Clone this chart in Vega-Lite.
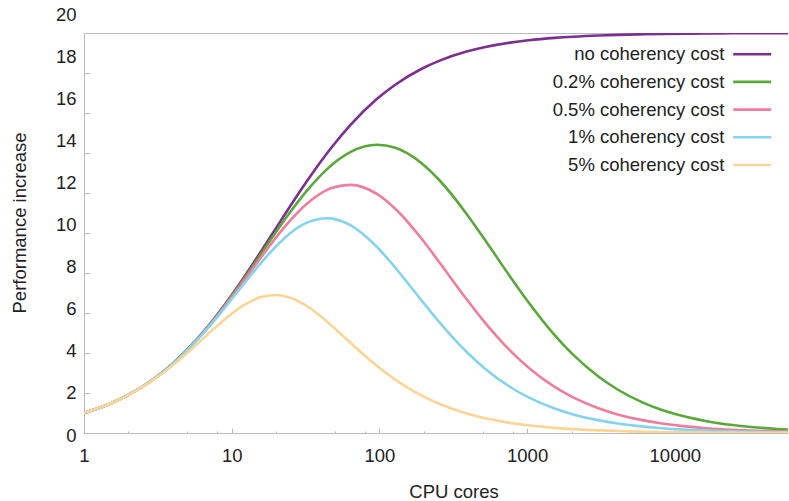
{
  "$schema": "https://vega.github.io/schema/vega-lite/v6.json",
  "width": 704,
  "height": 400,
  "autosize": {"type": "none"},
  "padding": {"left": 84, "top": 33, "right": 1, "bottom": 68},
  "background": "white",
  "config": {"view": {"stroke": null}, "font": "Liberation Sans"},
  "data": {"values": [
    {"cost":"no coherency cost","cores":1,"perf":1},{"cost":"no coherency cost","cores":1.5,"perf":1.4634},{"cost":"no coherency cost","cores":2,"perf":1.9048},{"cost":"no coherency cost","cores":3,"perf":2.7273},{"cost":"no coherency cost","cores":4,"perf":3.4783},{"cost":"no coherency cost","cores":6,"perf":4.8},{"cost":"no coherency cost","cores":8,"perf":5.9259},{"cost":"no coherency cost","cores":12,"perf":7.7419},{"cost":"no coherency cost","cores":16,"perf":9.1429},{"cost":"no coherency cost","cores":20,"perf":10.2564},{"cost":"no coherency cost","cores":24,"perf":11.1628},{"cost":"no coherency cost","cores":32,"perf":12.549},{"cost":"no coherency cost","cores":45,"perf":14.0625},{"cost":"no coherency cost","cores":48,"perf":14.3284},{"cost":"no coherency cost","cores":64,"perf":15.4217},{"cost":"no coherency cost","cores":96,"perf":16.6957},{"cost":"no coherency cost","cores":128,"perf":17.415},{"cost":"no coherency cost","cores":192,"perf":18.1991},{"cost":"no coherency cost","cores":256,"perf":18.6182},{"cost":"no coherency cost","cores":384,"perf":19.0571},{"cost":"no coherency cost","cores":512,"perf":19.2844},{"cost":"no coherency cost","cores":768,"perf":19.5172},{"cost":"no coherency cost","cores":1024,"perf":19.6357},{"cost":"no coherency cost","cores":1536,"perf":19.7556},{"cost":"no coherency cost","cores":2048,"perf":19.8162},{"cost":"no coherency cost","cores":3072,"perf":19.8771},{"cost":"no coherency cost","cores":4096,"perf":19.9077},{"cost":"no coherency cost","cores":6144,"perf":19.9383},{"cost":"no coherency cost","cores":8192,"perf":19.9537},{"cost":"no coherency cost","cores":12288,"perf":19.9691},{"cost":"no coherency cost","cores":16384,"perf":19.9768},{"cost":"no coherency cost","cores":24576,"perf":19.9846},{"cost":"no coherency cost","cores":32768,"perf":19.9884},{"cost":"no coherency cost","cores":49152,"perf":19.9923},{"cost":"no coherency cost","cores":65536,"perf":19.9942},
    {"cost":"0.2% coherency cost","cores":1,"perf":1},{"cost":"0.2% coherency cost","cores":1.5,"perf":1.4633},{"cost":"0.2% coherency cost","cores":2,"perf":1.9044},{"cost":"0.2% coherency cost","cores":3,"perf":2.7258},{"cost":"0.2% coherency cost","cores":4,"perf":3.4746},{"cost":"0.2% coherency cost","cores":6,"perf":4.7885},{"cost":"0.2% coherency cost","cores":8,"perf":5.9014},{"cost":"0.2% coherency cost","cores":12,"perf":7.6766},{"cost":"0.2% coherency cost","cores":16,"perf":9.0192},{"cost":"0.2% coherency cost","cores":20,"perf":10.0604},{"cost":"0.2% coherency cost","cores":24,"perf":10.8834},{"cost":"0.2% coherency cost","cores":32,"perf":12.0791},{"cost":"0.2% coherency cost","cores":45,"perf":13.2431},{"cost":"0.2% coherency cost","cores":48,"perf":13.4243},{"cost":"0.2% coherency cost","cores":64,"perf":14.056},{"cost":"0.2% coherency cost","cores":96,"perf":14.4101},{"cost":"0.2% coherency cost","cores":128,"perf":14.2609},{"cost":"0.2% coherency cost","cores":192,"perf":13.5048},{"cost":"0.2% coherency cost","cores":256,"perf":12.6245},{"cost":"0.2% coherency cost","cores":384,"perf":11.0164},{"cost":"0.2% coherency cost","cores":512,"perf":9.7129},{"cost":"0.2% coherency cost","cores":768,"perf":7.8163},{"cost":"0.2% coherency cost","cores":1024,"perf":6.5262},{"cost":"0.2% coherency cost","cores":1536,"perf":4.8991},{"cost":"0.2% coherency cost","cores":2048,"perf":3.9191},{"cost":"0.2% coherency cost","cores":3072,"perf":2.7979},{"cost":"0.2% coherency cost","cores":4096,"perf":2.1752},{"cost":"0.2% coherency cost","cores":6144,"perf":1.505},{"cost":"0.2% coherency cost","cores":8192,"perf":1.1506},{"cost":"0.2% coherency cost","cores":12288,"perf":0.782},{"cost":"0.2% coherency cost","cores":16384,"perf":0.5923},{"cost":"0.2% coherency cost","cores":24576,"perf":0.3988},{"cost":"0.2% coherency cost","cores":32768,"perf":0.3006},{"cost":"0.2% coherency cost","cores":49152,"perf":0.2014},{"cost":"0.2% coherency cost","cores":65536,"perf":0.1514},
    {"cost":"0.5% coherency cost","cores":1,"perf":1},{"cost":"0.5% coherency cost","cores":1.5,"perf":1.4631},{"cost":"0.5% coherency cost","cores":2,"perf":1.9039},{"cost":"0.5% coherency cost","cores":3,"perf":2.7236},{"cost":"0.5% coherency cost","cores":4,"perf":3.4692},{"cost":"0.5% coherency cost","cores":6,"perf":4.7714},{"cost":"0.5% coherency cost","cores":8,"perf":5.8651},{"cost":"0.5% coherency cost","cores":12,"perf":7.5806},{"cost":"0.5% coherency cost","cores":16,"perf":8.8398},{"cost":"0.5% coherency cost","cores":20,"perf":9.78},{"cost":"0.5% coherency cost","cores":24,"perf":10.4895},{"cost":"0.5% coherency cost","cores":32,"perf":11.4367},{"cost":"0.5% coherency cost","cores":45,"perf":12.1786},{"cost":"0.5% coherency cost","cores":48,"perf":12.2637},{"cost":"0.5% coherency cost","cores":64,"perf":12.4079},{"cost":"0.5% coherency cost","cores":96,"perf":11.9552},{"cost":"0.5% coherency cost","cores":128,"perf":11.2143},{"cost":"0.5% coherency cost","cores":192,"perf":9.7373},{"cost":"0.5% coherency cost","cores":256,"perf":8.5135},{"cost":"0.5% coherency cost","cores":384,"perf":6.7465},{"cost":"0.5% coherency cost","cores":512,"perf":5.5677},{"cost":"0.5% coherency cost","cores":768,"perf":4.1154},{"cost":"0.5% coherency cost","cores":1024,"perf":3.2607},{"cost":"0.5% coherency cost","cores":1536,"perf":2.3022},{"cost":"0.5% coherency cost","cores":2048,"perf":1.7787},{"cost":"0.5% coherency cost","cores":3072,"perf":1.2224},{"cost":"0.5% coherency cost","cores":4096,"perf":0.9311},{"cost":"0.5% coherency cost","cores":6144,"perf":0.6306},{"cost":"0.5% coherency cost","cores":8192,"perf":0.4767},{"cost":"0.5% coherency cost","cores":12288,"perf":0.3203},{"cost":"0.5% coherency cost","cores":16384,"perf":0.2412},{"cost":"0.5% coherency cost","cores":24576,"perf":0.1615},{"cost":"0.5% coherency cost","cores":32768,"perf":0.1213},{"cost":"0.5% coherency cost","cores":49152,"perf":0.0811},{"cost":"0.5% coherency cost","cores":65536,"perf":0.0609},
    {"cost":"1% coherency cost","cores":1,"perf":1},{"cost":"1% coherency cost","cores":1.5,"perf":1.4629},{"cost":"1% coherency cost","cores":2,"perf":1.9029},{"cost":"1% coherency cost","cores":3,"perf":2.7199},{"cost":"1% coherency cost","cores":4,"perf":3.4602},{"cost":"1% coherency cost","cores":6,"perf":4.7431},{"cost":"1% coherency cost","cores":8,"perf":5.8055},{"cost":"1% coherency cost","cores":12,"perf":7.4257},{"cost":"1% coherency cost","cores":16,"perf":8.5561},{"cost":"1% coherency cost","cores":20,"perf":9.3458},{"cost":"1% coherency cost","cores":24,"perf":9.8928},{"cost":"1% coherency cost","cores":32,"perf":10.5056},{"cost":"1% coherency cost","cores":45,"perf":10.7399},{"cost":"1% coherency cost","cores":48,"perf":10.7191},{"cost":"1% coherency cost","cores":64,"perf":10.3795},{"cost":"1% coherency cost","cores":96,"perf":9.3113},{"cost":"1% coherency cost","cores":128,"perf":8.2698},{"cost":"1% coherency cost","cores":192,"perf":6.6468},{"cost":"1% coherency cost","cores":256,"perf":5.5184},{"cost":"1% coherency cost","cores":384,"perf":4.0988},{"cost":"1% coherency cost","cores":512,"perf":3.2536},{"cost":"1% coherency cost","cores":768,"perf":2.3002},{"cost":"1% coherency cost","cores":1024,"perf":1.778},{"cost":"1% coherency cost","cores":1536,"perf":1.2223},{"cost":"1% coherency cost","cores":2048,"perf":0.9311},{"cost":"1% coherency cost","cores":3072,"perf":0.6306},{"cost":"1% coherency cost","cores":4096,"perf":0.4767},{"cost":"1% coherency cost","cores":6144,"perf":0.3203},{"cost":"1% coherency cost","cores":8192,"perf":0.2412},{"cost":"1% coherency cost","cores":12288,"perf":0.1615},{"cost":"1% coherency cost","cores":16384,"perf":0.1213},{"cost":"1% coherency cost","cores":24576,"perf":0.0811},{"cost":"1% coherency cost","cores":32768,"perf":0.0609},{"cost":"1% coherency cost","cores":49152,"perf":0.0406},{"cost":"1% coherency cost","cores":65536,"perf":0.0305},
    {"cost":"5% coherency cost","cores":1,"perf":1},{"cost":"5% coherency cost","cores":1.5,"perf":1.4607},{"cost":"5% coherency cost","cores":2,"perf":1.8957},{"cost":"5% coherency cost","cores":3,"perf":2.6906},{"cost":"5% coherency cost","cores":4,"perf":3.3898},{"cost":"5% coherency cost","cores":6,"perf":4.5283},{"cost":"5% coherency cost","cores":8,"perf":5.3691},{"cost":"5% coherency cost","cores":12,"perf":6.383},{"cost":"5% coherency cost","cores":16,"perf":6.8085},{"cost":"5% coherency cost","cores":20,"perf":6.8966},{"cost":"5% coherency cost","cores":24,"perf":6.7989},{"cost":"5% coherency cost","cores":32,"perf":6.3618},{"cost":"5% coherency cost","cores":45,"perf":5.5215},{"cost":"5% coherency cost","cores":48,"perf":5.3393},{"cost":"5% coherency cost","cores":64,"perf":4.4975},{"cost":"5% coherency cost","cores":96,"perf":3.3625},{"cost":"5% coherency cost","cores":128,"perf":2.6672},{"cost":"5% coherency cost","cores":192,"perf":1.8781},{"cost":"5% coherency cost","cores":256,"perf":1.4467},{"cost":"5% coherency cost","cores":384,"perf":0.9901},{"cost":"5% coherency cost","cores":512,"perf":0.7522},{"cost":"5% coherency cost","cores":768,"perf":0.5079},{"cost":"5% coherency cost","cores":1024,"perf":0.3834},{"cost":"5% coherency cost","cores":1536,"perf":0.2572},{"cost":"5% coherency cost","cores":2048,"perf":0.1935},{"cost":"5% coherency cost","cores":3072,"perf":0.1294},{"cost":"5% coherency cost","cores":4096,"perf":0.0972},{"cost":"5% coherency cost","cores":6144,"perf":0.0649},{"cost":"5% coherency cost","cores":8192,"perf":0.0487},{"cost":"5% coherency cost","cores":12288,"perf":0.0325},{"cost":"5% coherency cost","cores":16384,"perf":0.0244},{"cost":"5% coherency cost","cores":24576,"perf":0.0163},{"cost":"5% coherency cost","cores":32768,"perf":0.0122},{"cost":"5% coherency cost","cores":49152,"perf":0.0081},{"cost":"5% coherency cost","cores":65536,"perf":0.0061}
  ]},
  "mark": {"type": "line", "clip": true, "strokeWidth": 2.6, "interpolate": "monotone"},
  "encoding": {
    "x": {
      "field": "cores", "type": "quantitative",
      "scale": {"type": "log", "domain": [1, 58400], "nice": false},
      "axis": {
        "title": "CPU cores",
        "values": [1,2,5,8,10,20,50,80,100,200,500,800,1000,2000,5000,8000,10000,20000,50000],
        "format": "d",
        "labelExpr": "(datum.value == 1 || datum.value == 10 || datum.value == 100 || datum.value == 1000 || datum.value == 10000) ? datum.label : ''",
        "tickSize": {"condition": {"test": "datum.value == 1 || datum.value == 10 || datum.value == 100 || datum.value == 1000 || datum.value == 10000", "value": -5}, "value": -2},
        "grid": false,
        "domainColor": "#bbbbbb", "tickColor": "#bbbbbb",
        "labelFont": "Liberation Sans", "labelFontSize": 18.5, "labelColor": "#222222",
        "labelPadding": 18, "labelFlush": false, "labelOverlap": false,
        "titleFont": "Liberation Sans", "titleFontSize": 18.5, "titleFontWeight": "normal", "titleColor": "#222222",
        "titleX": 369.5, "titleY": 64, "titleBaseline": "alphabetic"
      }
    },
    "y": {
      "field": "perf", "type": "quantitative",
      "scale": {"domain": [0, 20], "nice": false},
      "axis": {
        "title": "Performance increase",
        "values": [0,2,4,6,8,10,12,14,16,18,20],
        "tickSize": -6,
        "labelOffset": {"expr": "2 - 1.05 * datum.value"},
        "labelPadding": 14,
        "grid": true, "gridColor": "#bbbbbb",
        "gridOpacity": {"condition": {"test": "datum.value == 20", "value": 1}, "value": 0},
        "domainColor": "#bbbbbb", "tickColor": "#bbbbbb",
        "labelFont": "Liberation Sans", "labelFontSize": 18.5, "labelColor": "#222222",
        "labelFlush": false, "labelOverlap": false,
        "titleFont": "Liberation Sans", "titleFontSize": 18.5, "titleFontWeight": "normal", "titleColor": "#222222",
        "titleX": -58.5, "titleY": 189.5, "titleBaseline": "alphabetic"
      }
    },
    "color": {
      "field": "cost", "type": "nominal",
      "scale": {
        "domain": ["no coherency cost", "0.2% coherency cost", "0.5% coherency cost", "1% coherency cost", "5% coherency cost"],
        "range": ["#7d2f90", "#59a83a", "#ef7e9c", "#84d3ef", "#fcd596"]
      },
      "legend": {
        "orient": "none", "legendX": 657.2, "legendY": 10.2, "title": null,
        "symbolType": "M-2,0H2", "symbolSize": 361, "symbolStrokeWidth": 2.6,
        "labelAlign": "right", "labelOffset": -38.8,
        "labelFont": "Liberation Sans", "labelFontSize": 18.5, "labelColor": "#222222",
        "labelLimit": 400, "rowPadding": 6.7, "padding": 0
      }
    }
  }
}
